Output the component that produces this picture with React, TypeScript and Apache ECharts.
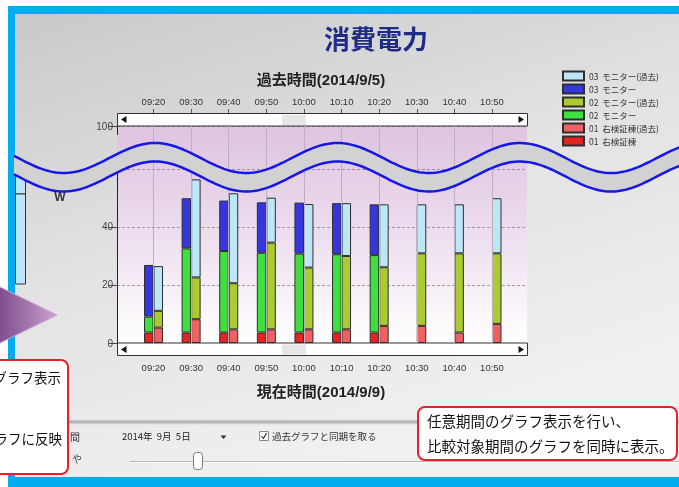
import React, { useEffect, useRef } from 'react';
import * as echarts from 'echarts';

// ---- data ----
const currentTimes = ['09:20', '09:30', '09:40', '09:50', '10:00', '10:10', '10:20', '10:30', '10:40', '10:50'];
const pastTimes = ['09:20', '09:30', '09:40', '09:50', '10:00', '10:10', '10:20', '10:30', '10:40', '10:50'];
const yTickLabels = [0, 20, 40, 60, 100];

// stacked segment values (W) – current day (2014/9/9)
const now01 = [3.6, 3.6, 3.6, 3.6, 3.6, 3.6, 3.6, null, null, null];
const now02 = [5.5, 29.0, 28.1, 27.5, 27.2, 27.0, 26.7, null, null, null];
const now03 = [17.8, 17.3, 17.4, 17.4, 17.6, 17.6, 17.5, null, null, null];
// past day (2014/9/5)
const past01 = [5.3, 8.2, 4.7, 4.7, 4.7, 4.7, 5.9, 5.9, 3.6, 6.6];
const past02 = [5.8, 14.4, 15.9, 29.9, 21.3, 25.3, 20.2, 25.0, 27.3, 24.3];
const past03 = [15.4, 33.8, 31.0, 15.5, 21.9, 18.2, 21.7, 16.9, 16.9, 19.0];

const names = {
  p03: '03  モニター(過去)',
  n03: '03  モニター',
  p02: '02  モニター(過去)',
  n02: '02  モニター',
  p01: '01  右検証棟(過去)',
  n01: '01  右検証棟',
};

const JP = "'Noto Sans CJK JP', sans-serif";
const LAT = "'Liberation Sans', 'Noto Sans CJK JP', sans-serif";

function wavePoints(offset: number) {
  const pts: number[][] = [];
  for (let x = 14; x <= 681; x += 3) {
    pts.push([x, 158 + offset - 15 * Math.cos((2 * Math.PI * (x - 155)) / 182.5)]);
  }
  return pts;
}

export default function App() {
  const ref = useRef<HTMLDivElement>(null);
  useEffect(() => {
    if (!ref.current) return;
    const chart = echarts.init(ref.current, null, { renderer: 'svg' });
    const upper = wavePoints(0);
    const lower = wavePoints(18.5);
    const band = [...upper, ...lower.slice().reverse()];
    const LG = echarts.graphic.LinearGradient;

    const breaks = [{ start: 60, end: 97, gap: 11.8 }];
    const border = '#2e2e2e';
    const bar = (name: string, data: any[], stack: string, color: string) => ({
      name,
      type: 'bar',
      stack,
      data,
      xAxisIndex: 1,
      yAxisIndex: 1,
      barWidth: 9.5,
      barGap: '0%',
      z: 3,
      itemStyle: { color, borderColor: border, borderWidth: 1 },
    });

    const option: any = {
      animation: false,
      textStyle: { fontFamily: LAT },
      grid: [
        {
          left: 117, right: 152, top: 126, bottom: 144, show: true, borderWidth: 0,
          backgroundColor: new LG(0, 0, 0, 1, [
            { offset: 0, color: '#dfc3df' },
            { offset: 0.45, color: '#ebdbed' },
            { offset: 1, color: '#ffffff' },
          ]),
        },
        { left: 134.7, right: 168.2, top: 126, bottom: 144 },
      ],
      xAxis: [
        { gridIndex: 0, type: 'value', min: 0, max: 1, show: false },
        {
          gridIndex: 1, type: 'category', data: currentTimes, position: 'bottom', offset: 13,
          axisLine: { show: false },
          axisTick: { show: true, alignWithLabel: true, length: 4, lineStyle: { color: '#555' } },
          axisLabel: { fontSize: 9.5, color: '#333', margin: 7 },
        },
        {
          gridIndex: 1, type: 'category', data: pastTimes, position: 'top', offset: 13,
          axisLine: { show: false },
          axisTick: { show: true, alignWithLabel: true, length: 4, lineStyle: { color: '#555' } },
          axisLabel: { fontSize: 9.5, color: '#333', margin: 7 },
        },
      ],
      yAxis: [
        {
          gridIndex: 0, type: 'value', min: 0, max: 100, interval: 20, breaks,
          breakArea: { show: false },
          axisLine: { show: true, lineStyle: { color: '#222', width: 1 } },
          axisTick: { show: true, length: 8, lineStyle: { color: '#444' }, customValues: yTickLabels },
          axisLabel: {
            fontSize: 10, color: '#444', margin: 4, showMaxLabel: true,
            customValues: yTickLabels,
          },
          splitLine: { show: true, lineStyle: { color: '#8c868c', type: [3, 2], width: 1, opacity: 0.8 } },
        },
        {
          gridIndex: 1, type: 'value', min: 0, max: 100, interval: 20, breaks,
          breakArea: { show: false }, show: false, splitLine: { show: false },
        },
      ],
      legend: {
        orient: 'vertical', left: 557, top: 65.5, itemWidth: 21, itemHeight: 9, itemGap: 2,
        icon: 'rect', selectedMode: false,
        textStyle: { fontSize: 8.5, color: '#333', fontFamily: JP, lineHeight: 9 },
        data: [names.p03, names.n03, names.p02, names.n02, names.p01, names.n01],
      },
      series: [
        {
          type: 'line', xAxisIndex: 1, yAxisIndex: 1, data: [], z: 1, silent: true,
          markLine: {
            symbol: ['none', 'none'], silent: true, label: { show: false },
            lineStyle: { color: '#beaebe', width: 1, type: 'solid' },
            data: currentTimes.map((t) => ({ xAxis: t })),
          },
        },
        bar(names.n01, now01, 'now', '#e62222'),
        bar(names.n02, now02, 'now', '#3ee03e'),
        bar(names.n03, now03, 'now', '#3636e0'),
        bar(names.p01, past01, 'past', '#f06262'),
        bar(names.p02, past02, 'past', '#aacb32'),
        bar(names.p03, past03, 'past', '#bde6f7'),
      ],
      graphic: [
        // background
        { type: 'rect', z: -20, silent: true, shape: { x: 0, y: 0, width: 679, height: 487 }, style: { fill: '#ffffff' } },
        {
          type: 'rect', z: -19, silent: true, shape: { x: 15, y: 14, width: 664, height: 463 },
          style: {
            fill: new LG(0, 0, 0.45, 1, [
              { offset: 0, color: '#c9c9c9' },
              { offset: 0.5, color: '#e2e2e2' },
              { offset: 1, color: '#f1f1f1' },
            ]),
          },
        },
        // blue frame
        { type: 'rect', z: -18, silent: true, shape: { x: 8, y: 6, width: 671, height: 8 }, style: { fill: '#00aeef' } },
        { type: 'rect', z: -18, silent: true, shape: { x: 8, y: 6, width: 7, height: 481 }, style: { fill: '#00aeef' } },
        { type: 'rect', z: -18, silent: true, shape: { x: 8, y: 477, width: 671, height: 10 }, style: { fill: '#00aeef' } },
        // separator and controls
        {
          type: 'rect', z: -17, silent: true, shape: { x: 15, y: 419, width: 664, height: 6 },
          style: {
            fill: new LG(0, 0, 0, 1, [
              { offset: 0, color: 'rgba(160,160,160,0)' },
              { offset: 0.5, color: 'rgba(150,150,150,0.8)' },
              { offset: 1, color: 'rgba(240,240,240,0.6)' },
            ]),
          },
        },
        { type: 'text', z: 5, silent: true, style: { text: '間', x: 70, y: 436, align: 'left', verticalAlign: 'middle', fontSize: 10, fill: '#333', fontFamily: JP } },
        { type: 'text', z: 5, silent: true, style: { text: 'や', x: 72, y: 458, align: 'left', verticalAlign: 'middle', fontSize: 10, fill: '#444', fontFamily: JP } },
        { type: 'text', z: 5, silent: true, style: { text: '2014年  9月  5日', x: 122, y: 436, align: 'left', verticalAlign: 'middle', fontSize: 9.5, fill: '#222', fontFamily: JP } },
        { type: 'polygon', z: 5, silent: true, shape: { points: [[220.5, 435.5], [226.5, 435.5], [223.5, 439]] }, style: { fill: '#333' } },
        { type: 'rect', z: 5, silent: true, shape: { x: 259.5, y: 431.5, width: 9, height: 9 }, style: { fill: '#fbfbfb', stroke: '#8a8a8a', lineWidth: 1 } },
        { type: 'polyline', z: 6, silent: true, shape: { points: [[261.5, 436], [263.5, 438.5], [266.5, 433]] }, style: { stroke: '#333', lineWidth: 1.2, fill: 'none' } },
        { type: 'text', z: 5, silent: true, style: { text: '過去グラフと同期を取る', x: 272, y: 436, align: 'left', verticalAlign: 'middle', fontSize: 9.5, fill: '#333', fontFamily: JP } },
        { type: 'line', z: 5, silent: true, shape: { x1: 130, y1: 461.5, x2: 679, y2: 461.5 }, style: { stroke: '#b9b9b9', lineWidth: 1 } },
        { type: 'line', z: 5, silent: true, shape: { x1: 130, y1: 462.5, x2: 679, y2: 462.5 }, style: { stroke: '#fafafa', lineWidth: 1 } },
        { type: 'rect', z: 6, silent: true, shape: { x: 193.5, y: 452.5, width: 9, height: 17, r: 3 }, style: { fill: '#fdfdfd', stroke: '#777', lineWidth: 1 } },
        // titles
        { type: 'text', z: 5, silent: true, style: { text: '消費電力', x: 376, y: 37, align: 'center', verticalAlign: 'middle', fontSize: 26, fontWeight: 'bold', fill: '#1f2b86', fontFamily: JP } },
        { type: 'text', z: 5, silent: true, style: { text: '過去時間(2014/9/5)', x: 321, y: 79, align: 'center', verticalAlign: 'middle', fontSize: 15, fontWeight: 'bold', fill: '#222', fontFamily: LAT } },
        { type: 'text', z: 5, silent: true, style: { text: '現在時間(2014/9/9)', x: 321, y: 391, align: 'center', verticalAlign: 'middle', fontSize: 15, fontWeight: 'bold', fill: '#222', fontFamily: LAT } },
        // scrollbars
        { type: 'rect', z: 5, silent: true, shape: { x: 117.5, y: 113.5, width: 410, height: 12.5 }, style: { fill: '#ffffff', stroke: '#333', lineWidth: 1 } },
        { type: 'rect', z: 5, silent: true, shape: { x: 282, y: 115, width: 24, height: 10 }, style: { fill: '#e6e6e6' } },
        { type: 'polygon', z: 6, silent: true, shape: { points: [[121, 119.5], [126.5, 116], [126.5, 123]] }, style: { fill: '#111' } },
        { type: 'polygon', z: 6, silent: true, shape: { points: [[524, 119.5], [518.5, 116], [518.5, 123]] }, style: { fill: '#111' } },
        { type: 'rect', z: 5, silent: true, shape: { x: 117.5, y: 343, width: 410, height: 12.5 }, style: { fill: '#ffffff', stroke: '#333', lineWidth: 1 } },
        { type: 'rect', z: 5, silent: true, shape: { x: 282, y: 344.5, width: 24, height: 10 }, style: { fill: '#e6e6e6' } },
        { type: 'polygon', z: 6, silent: true, shape: { points: [[121, 349.5], [126.5, 346], [126.5, 353]] }, style: { fill: '#111' } },
        { type: 'polygon', z: 6, silent: true, shape: { points: [[524, 349.5], [518.5, 346], [518.5, 353]] }, style: { fill: '#111' } },
        // left partial panel
        { type: 'rect', z: 40, silent: true, shape: { x: 15.5, y: 172, width: 10, height: 22 }, style: { fill: '#bfe6f7', stroke: '#333', lineWidth: 1 } },
        { type: 'rect', z: 40, silent: true, shape: { x: 15.5, y: 194, width: 10, height: 90 }, style: { fill: '#bfe6f7', stroke: '#333', lineWidth: 1 } },
        { type: 'text', z: 40, silent: true, style: { text: 'W', x: 60, y: 197, align: 'center', verticalAlign: 'middle', fontSize: 12, fontWeight: 'bold', fill: '#333', fontFamily: LAT } },
        // wave
        { type: 'polygon', z: 50, silent: true, shape: { points: band }, style: { fill: '#d2d2d2' } },
        { type: 'polyline', z: 51, silent: true, shape: { points: upper }, style: { stroke: '#1616e8', lineWidth: 2.5, fill: 'none' } },
        { type: 'polyline', z: 51, silent: true, shape: { points: lower }, style: { stroke: '#1616e8', lineWidth: 2.5, fill: 'none' } },
        // arrow head
        {
          type: 'polygon', z: 60, silent: true, shape: { points: [[-6, 284], [57, 315], [-6, 346]] },
          style: {
            fill: new LG(0, 0, 1, 0, [
              { offset: 0, color: '#7a4487' },
              { offset: 1, color: '#c9a2cf' },
            ]),
            stroke: '#c9a6cf', lineWidth: 1,
          },
        },
        // left callout
        { type: 'rect', z: 60, silent: true, shape: { x: -20, y: 360, width: 88, height: 114, r: 7 }, style: { fill: '#ffffff', stroke: '#e3222c', lineWidth: 2 } },
        { type: 'text', z: 61, silent: true, style: { text: 'グラフ表示', x: 61, y: 377, align: 'right', verticalAlign: 'middle', fontSize: 13.5, fill: '#111', fontFamily: JP } },
        { type: 'text', z: 61, silent: true, style: { text: 'グラフに反映', x: 62, y: 438, align: 'right', verticalAlign: 'middle', fontSize: 13.5, fill: '#111', fontFamily: JP } },
        // right callout
        { type: 'rect', z: 60, silent: true, shape: { x: 418, y: 407, width: 259, height: 53, r: 7 }, style: { fill: '#ffffff', stroke: '#e3222c', lineWidth: 2 } },
        { type: 'text', z: 61, silent: true, style: { text: '任意期間のグラフ表示を行い、', x: 427, y: 420, align: 'left', verticalAlign: 'middle', fontSize: 14.5, fill: '#111', fontFamily: JP } },
        { type: 'text', z: 61, silent: true, style: { text: '比較対象期間のグラフを同時に表示。', x: 427, y: 445, align: 'left', verticalAlign: 'middle', fontSize: 14.5, fill: '#111', fontFamily: JP } },
      ],
    };
    chart.setOption(option);
    return () => chart.dispose();
  }, []);
  return <div ref={ref} style={{ position: 'fixed', left: 0, top: 0, width: 679, height: 487 }} />;
}
